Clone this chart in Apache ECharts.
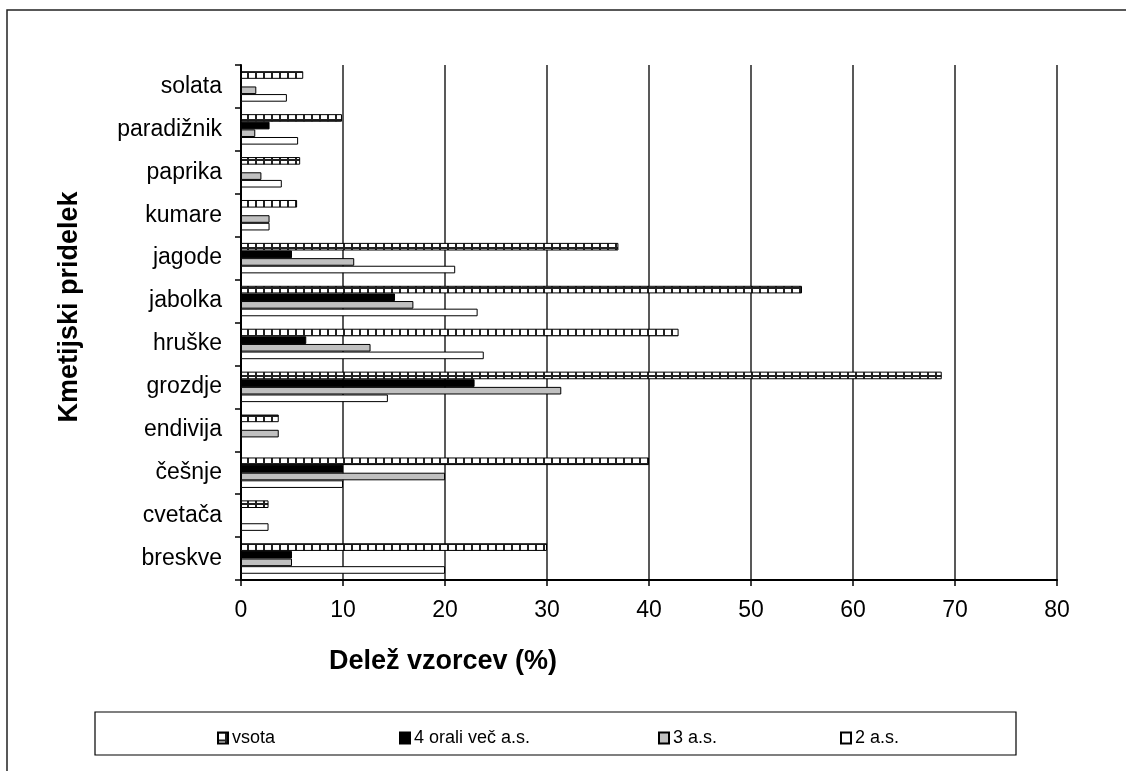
<!DOCTYPE html>
<html>
<head>
<meta charset="utf-8">
<script src="https://cdn.jsdelivr.net/npm/echarts@6/dist/echarts.min.js"></script>
<style>
  html, body { margin: 0; padding: 0; background: #fff; }
  #chart { width: 1126px; height: 771px; }
</style>
</head>
<body>
<div id="chart"></div>
<script>
// kategorije od spodaj navzgor
const categories = ['breskve', 'cvetača', 'češnje', 'endivija', 'grozdje', 'hruške', 'jabolka', 'jagode', 'kumare', 'paprika', 'paradižnik', 'solata']
const seriesNames = ['vsota', '4 orali več a.s.', '3 a.s.', '2 a.s.']
const vsota = [30, 2.7, 40, 3.7, 68.7, 42.9, 55, 37, 5.5, 5.8, 9.9, 6.1]
const stiriAliVec = [5, 0, 10, 0, 22.9, 6.4, 15.1, 5, 0, 0, 2.8, 0]
const triAS = [5, 0, 20, 3.7, 31.4, 12.7, 16.9, 11.1, 2.8, 2.0, 1.4, 1.5]
const dvaAS = [20, 2.7, 10, 0, 14.4, 23.8, 23.2, 21.0, 2.8, 4.0, 5.6, 4.5]
const xTicks = [0, 10, 20, 30, 40, 50, 60, 70, 80]

const font = 'Liberation Sans'

// vzorec za "vsota" (mreža belih kvadratkov)
function makePattern() {
  const c = document.createElement('canvas')
  c.width = 8
  c.height = 8
  const ctx = c.getContext('2d')
  ctx.fillStyle = '#222'
  ctx.fillRect(0, 0, 8, 8)
  ctx.fillStyle = '#fff'
  ctx.fillRect(1, 1, 6, 6)
  return c
}
const pattern = { image: makePattern(), repeat: 'repeat' }

const fills = [pattern, '#000', '#c0c0c0', '#fff']
const values = [vsota, stiriAliVec, triAS, dvaAS]

const chart = echarts.init(document.getElementById('chart'))

const legendLefts = [217, 399, 658, 840]

chart.setOption({
  animation: false,
  backgroundColor: '#fff',
  grid: { left: 241, right: 69, top: 65, bottom: 191, containLabel: false },
  xAxis: {
    type: 'value',
    min: xTicks[0],
    max: xTicks[xTicks.length - 1],
    interval: 10,
    axisLine: { show: true, lineStyle: { color: '#000', width: 2 } },
    axisTick: { show: true, length: 6, lineStyle: { color: '#000', width: 1.5 } },
    axisLabel: { color: '#000', fontSize: 23, fontFamily: font, margin: 19 },
    splitLine: { show: true, lineStyle: { color: '#222', width: 1.5 } }
  },
  yAxis: {
    type: 'category',
    data: categories,
    axisLine: { show: true, lineStyle: { color: '#000', width: 2 } },
    axisTick: { show: true, length: 6, lineStyle: { color: '#000', width: 1.5 } },
    axisLabel: { color: '#000', fontSize: 23, fontFamily: font, margin: 19 },
    splitLine: { show: false }
  },
  legend: legendLefts.map((left, i) => ({
    left: left,
    top: 729,
    data: [seriesNames[i]],
    icon: 'rect',
    itemWidth: 10,
    itemHeight: 11,
    itemGap: 0,
    padding: 0,
    textStyle: { color: '#000', fontSize: 18, fontFamily: font, padding: [0, 0, 0, -1] },
    selectedMode: false
  })),
  graphic: [
    {
      type: 'rect',
      shape: { x: 7, y: 10, width: 1200, height: 800 },
      style: { fill: 'none', stroke: '#222', lineWidth: 1.5 },
      silent: true
    },
    {
      type: 'rect',
      shape: { x: 95, y: 712, width: 921, height: 43 },
      style: { fill: 'none', stroke: '#000', lineWidth: 1.2 },
      silent: true
    },
    {
      type: 'text',
      x: 443,
      y: 662,
      style: {
        text: 'Delež vzorcev (%)',
        font: 'bold 27px "Liberation Sans"',
        fill: '#000',
        textAlign: 'center',
        textVerticalAlign: 'middle'
      }
    },
    {
      type: 'text',
      x: 70,
      y: 307,
      rotation: Math.PI / 2,
      style: {
        text: 'Kmetijski pridelek',
        font: 'bold 27px "Liberation Sans"',
        fill: '#000',
        textAlign: 'center',
        textVerticalAlign: 'middle'
      }
    }
  ],
  series: seriesNames.map((name, i) => ({
    name: name,
    type: 'bar',
    data: values[i],
    barGap: '0%',
    barCategoryGap: '29%',
    itemStyle: { color: fills[i], borderColor: '#000', borderWidth: 1 }
  }))
})
</script>
</body>
</html>
